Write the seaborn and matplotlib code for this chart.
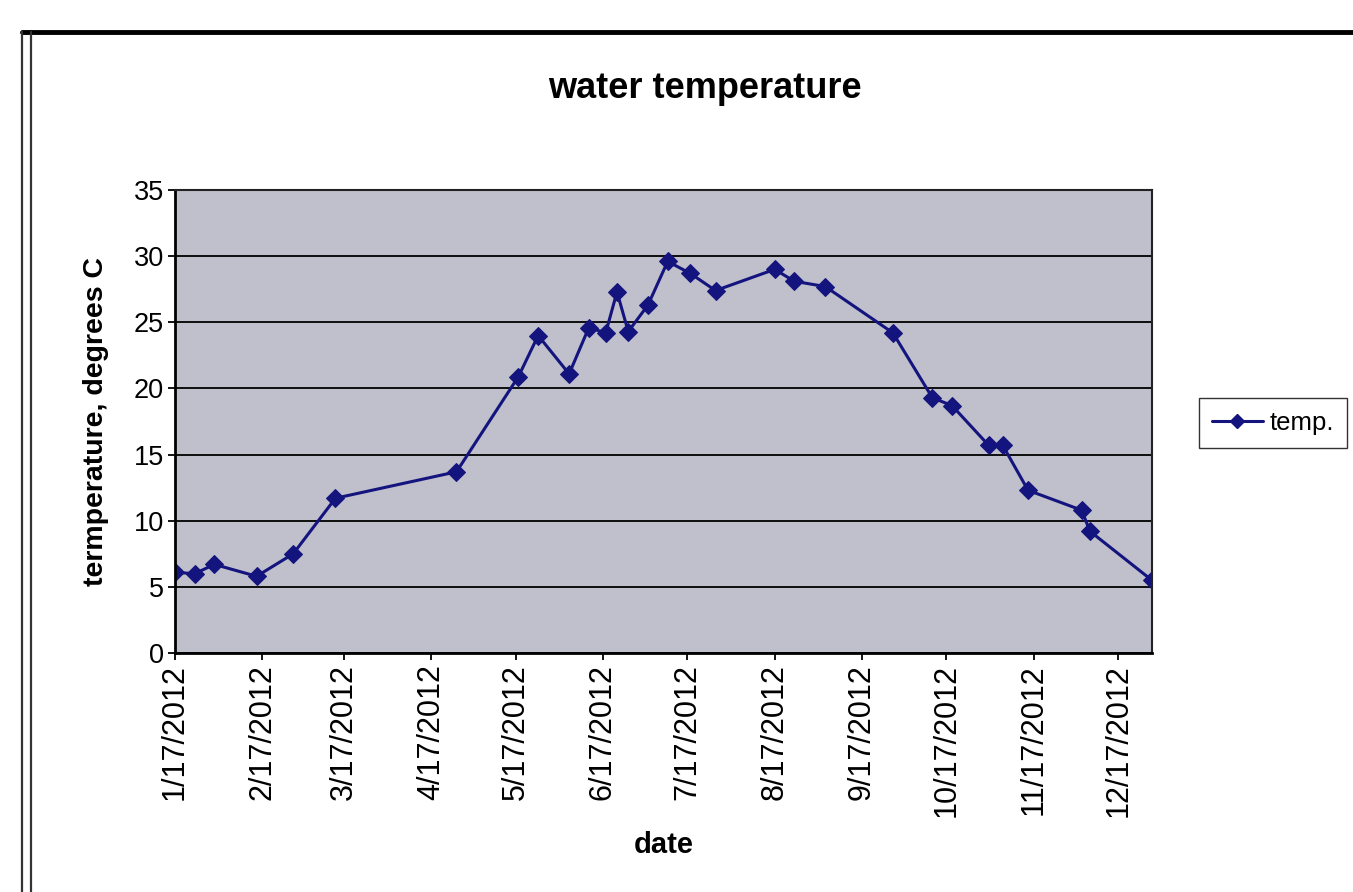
import numpy as np
import pandas as pd
import matplotlib
matplotlib.use("Agg")
import matplotlib.pyplot as plt
import matplotlib.dates as mdates
from matplotlib.lines import Line2D
import seaborn as sns

# sample dates and water temperature (degrees C)
dates = ["2012-01-17", "2012-01-24", "2012-01-31", "2012-02-15", "2012-02-28",
         "2012-03-14", "2012-04-26", "2012-05-18", "2012-05-25", "2012-06-05",
         "2012-06-12", "2012-06-18", "2012-06-22", "2012-06-26", "2012-07-03",
         "2012-07-10", "2012-07-18", "2012-07-27", "2012-08-17", "2012-08-24",
         "2012-09-04", "2012-09-28", "2012-10-12", "2012-10-19", "2012-11-01",
         "2012-11-06", "2012-11-15", "2012-12-04", "2012-12-07", "2012-12-29"]
temps = [6.1, 6.0, 6.7, 5.8, 7.5,
         11.7, 13.7, 20.9, 24.0, 21.1,
         24.6, 24.2, 27.3, 24.3, 26.3,
         29.6, 28.7, 27.4, 29.0, 28.1,
         27.7, 24.2, 19.3, 18.7, 15.7,
         15.7, 12.3, 10.8, 9.2, 5.5]
y_ticks = [0, 5, 10, 15, 20, 25, 30, 35]

df = pd.DataFrame({"date": pd.to_datetime(dates), "temp": temps})

sns.set_style("white")
plt.rcParams["font.family"] = ["Liberation Sans", "DejaVu Sans"]
plt.rcParams["text.color"] = "black"
plt.rcParams["axes.labelcolor"] = "black"
plt.rcParams["xtick.color"] = "black"
plt.rcParams["ytick.color"] = "black"

fig = plt.figure(figsize=(13.53, 8.92), dpi=100)
ax = fig.add_axes([0.1293, 0.2679, 0.7221, 0.5191])
ax.set_facecolor("#c0bfcc")

line_col = "#14147e"
sns.lineplot(data=df, x="date", y="temp", ax=ax, color=line_col, linewidth=2.2,
             marker="D", markersize=9, markeredgecolor=line_col, legend=False)

ax.set_ylim(0, 35)
ax.set_yticks(y_ticks)
ax.set_xlim(df["date"].iloc[0], df["date"].iloc[-1])
ax.yaxis.grid(True, color="black", linewidth=1.3)
ax.xaxis.grid(False)

ax.xaxis.set_major_locator(mdates.MonthLocator(bymonthday=17))
ax.xaxis.set_major_formatter(
    plt.FuncFormatter(lambda v, p: "{d.month}/{d.day}/{d.year}".format(d=mdates.num2date(v))))
ax.tick_params(axis="x", labelrotation=90, labelsize=22, direction="out",
               length=5, width=1.3, pad=3, bottom=True)
ax.tick_params(axis="y", labelsize=19.5, direction="out", length=5, width=1.3,
               pad=3, left=True)

for side in ["left", "bottom"]:
    ax.spines[side].set_color("black")
    ax.spines[side].set_linewidth(2)
for side in ["top", "right"]:
    ax.spines[side].set_color("#222222")
    ax.spines[side].set_linewidth(1.5)

ax.set_xlabel("date", fontsize=21, fontweight="bold", labelpad=10)
ax.set_ylabel("termperature, degrees C", fontsize=20.5, fontweight="bold", labelpad=18)
fig.text(0.521, 0.901, "water temperature", ha="center", va="center",
         fontsize=26, fontweight="bold")

# legend box on the right, its right edge runs past the figure edge
handle = Line2D([], [], color=line_col, linewidth=2.2, marker="D", markersize=7)
fig.legend([handle], ["temp."], loc="center left", bbox_to_anchor=(0.886, 0.5255),
           fontsize=18.5, frameon=True, fancybox=False, edgecolor="black",
           handlelength=2.0, handletextpad=0.25, borderpad=0.5, borderaxespad=0)

# outer chart frame
fig.add_artist(Line2D([22 / 1353, 1.0], [1 - 32 / 892] * 2, color="black", linewidth=3.5,
                      transform=fig.transFigure))
for xpix in [22, 31]:
    fig.add_artist(Line2D([xpix / 1353] * 2, [0, 1 - 32 / 892], color="#333333",
                          linewidth=1.6, transform=fig.transFigure))

fig.savefig("out.png", dpi=100)
